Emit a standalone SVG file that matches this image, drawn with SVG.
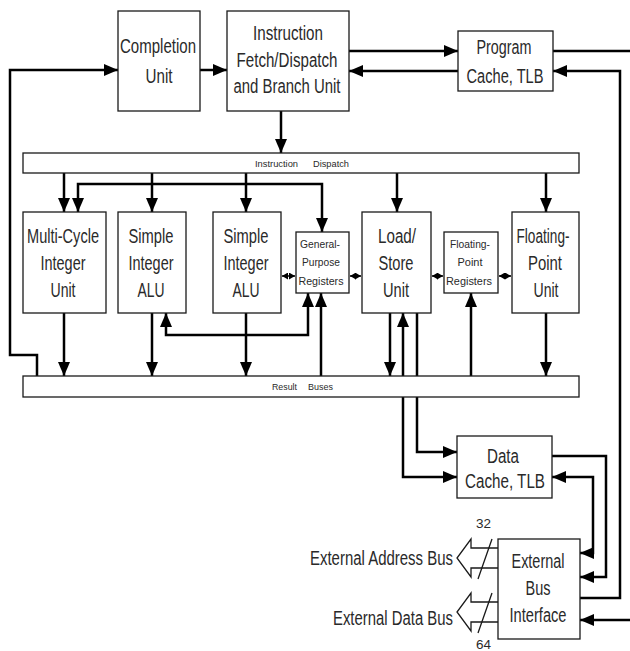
<svg xmlns="http://www.w3.org/2000/svg" width="630" height="651" viewBox="0 0 630 651">
<style>
.box{fill:#fff;stroke:#1a1a1a;stroke-width:1.3}
.ln{fill:none;stroke:#000;stroke-width:2.5}
.sm{fill:none;stroke:#000;stroke-width:1.5}
.th{fill:none;stroke:#1a1a1a;stroke-width:1.3}
.t{font-family:"Liberation Sans",Arial,sans-serif;font-size:20px;fill:#2a2a2a;text-anchor:middle}
.r{font-size:11px}
.b{font-size:9.5px}
.n{font-size:12px}
</style>
<defs>
<marker id="a" markerUnits="userSpaceOnUse" markerWidth="14" markerHeight="12" refX="14" refY="6" orient="auto-start-reverse"><path d="M0,0L14,6L0,12z" fill="#000"/></marker>
<marker id="s" markerUnits="userSpaceOnUse" markerWidth="6" markerHeight="7" refX="6" refY="3.5" orient="auto-start-reverse"><path d="M0,0L6,3.5L0,7z" fill="#000"/></marker>
</defs>
<g id="connectors">
<path class="ln" d="M37,376V355H10V70H118" marker-end="url(#a)"/>
<path class="ln" d="M200,70H227" marker-end="url(#a)"/>
<path class="ln" d="M349,51H458" marker-end="url(#a)"/>
<path class="ln" d="M458,71H349" marker-end="url(#a)"/>
<path class="ln" d="M553,51H630"/>
<path class="ln" d="M580,598H620V71H553" marker-end="url(#a)"/>
<path class="ln" d="M630,620H580" marker-end="url(#a)"/>
<path class="ln" d="M281,111V153" marker-end="url(#a)"/>
<path class="ln" d="M64,173V212" marker-end="url(#a)"/>
<path class="ln" d="M152,173V212" marker-end="url(#a)"/>
<path class="ln" d="M246,173V212" marker-end="url(#a)"/>
<path class="ln" d="M397,173V212" marker-end="url(#a)"/>
<path class="ln" d="M546,173V212" marker-end="url(#a)"/>
<path class="ln" d="M78,212V184H322V232" marker-start="url(#a)" marker-end="url(#a)"/>
<path class="sm" d="M282,276H295" marker-start="url(#s)" marker-end="url(#s)"/>
<path class="sm" d="M350,276H361" marker-start="url(#s)" marker-end="url(#s)"/>
<path class="sm" d="M432,276H443" marker-start="url(#s)" marker-end="url(#s)"/>
<path class="sm" d="M499,276H511" marker-start="url(#s)" marker-end="url(#s)"/>
<path class="ln" d="M64,313V376" marker-end="url(#a)"/>
<path class="ln" d="M152,313V376" marker-end="url(#a)"/>
<path class="ln" d="M246,313V376" marker-end="url(#a)"/>
<path class="ln" d="M166,313V335H308V293" marker-start="url(#a)" marker-end="url(#a)"/>
<path class="ln" d="M321,376V293" marker-end="url(#a)"/>
<path class="ln" d="M390,313V376" marker-end="url(#a)"/>
<path class="ln" d="M403,313V477H457" marker-start="url(#a)" marker-end="url(#a)"/>
<path class="ln" d="M417,313V452H457" marker-end="url(#a)"/>
<path class="ln" d="M471,376V293" marker-end="url(#a)"/>
<path class="ln" d="M546,313V376" marker-end="url(#a)"/>
<path class="ln" d="M552,456H606V577H580" marker-end="url(#a)"/>
<path class="ln" d="M552,477H593V553H580" marker-start="url(#a)" marker-end="url(#a)"/>
<polyline class="th" points="498,548 471,548 471,539 457,558 471,577 471,568 498,568"/>
<polyline class="th" points="498,602 471,602 471,593 457,612 471,631 471,622 498,622"/>
<path class="th" d="M492,539L478,579M492,593L478,633"/>
</g>
<g id="completion-unit"><rect class="box" x="118" y="11" width="82" height="100"/>
<text class="t" x="158" y="53" textLength="76" lengthAdjust="spacingAndGlyphs">Completion</text>
<text class="t" x="159" y="83" textLength="27" lengthAdjust="spacingAndGlyphs">Unit</text></g>
<g id="fetch-unit"><rect class="box" x="227" y="11" width="122" height="100"/>
<text class="t" x="288" y="40" textLength="70" lengthAdjust="spacingAndGlyphs">Instruction</text>
<text class="t" x="287" y="67" textLength="101" lengthAdjust="spacingAndGlyphs">Fetch/Dispatch</text>
<text class="t" x="287" y="93" textLength="107" lengthAdjust="spacingAndGlyphs">and Branch Unit</text></g>
<g id="program-cache"><rect class="box" x="458" y="31" width="95" height="60"/>
<text class="t" x="504" y="54" textLength="55" lengthAdjust="spacingAndGlyphs">Program</text>
<text class="t" x="505" y="83" textLength="77" lengthAdjust="spacingAndGlyphs">Cache, TLB</text></g>
<g id="instruction-dispatch"><rect class="box" x="23" y="153" width="556" height="20"/>
<text class="t b" x="276.5" y="167" textLength="43" lengthAdjust="spacingAndGlyphs">Instruction</text>
<text class="t b" x="331" y="167" textLength="36" lengthAdjust="spacingAndGlyphs">Dispatch</text></g>
<g id="multi-cycle"><rect class="box" x="23" y="212" width="83" height="101"/>
<text class="t" x="63" y="243" textLength="72" lengthAdjust="spacingAndGlyphs">Multi-Cycle</text>
<text class="t" x="63" y="270" textLength="45" lengthAdjust="spacingAndGlyphs">Integer</text>
<text class="t" x="63" y="297" textLength="25" lengthAdjust="spacingAndGlyphs">Unit</text></g>
<g id="alu1"><rect class="box" x="118" y="212" width="68" height="101"/>
<text class="t" x="151" y="243" textLength="45" lengthAdjust="spacingAndGlyphs">Simple</text>
<text class="t" x="151" y="270" textLength="45" lengthAdjust="spacingAndGlyphs">Integer</text>
<text class="t" x="151" y="297" textLength="27" lengthAdjust="spacingAndGlyphs">ALU</text></g>
<g id="alu2"><rect class="box" x="213" y="212" width="68" height="101"/>
<text class="t" x="246" y="243" textLength="45" lengthAdjust="spacingAndGlyphs">Simple</text>
<text class="t" x="246" y="270" textLength="45" lengthAdjust="spacingAndGlyphs">Integer</text>
<text class="t" x="246" y="297" textLength="27" lengthAdjust="spacingAndGlyphs">ALU</text></g>
<g id="gpr"><rect class="box" x="296" y="232" width="53" height="61"/>
<text class="t r" x="320" y="248" textLength="40" lengthAdjust="spacingAndGlyphs">General-</text>
<text class="t r" x="321" y="266" textLength="38" lengthAdjust="spacingAndGlyphs">Purpose</text>
<text class="t r" x="321" y="285" textLength="45" lengthAdjust="spacingAndGlyphs">Registers</text></g>
<g id="load-store"><rect class="box" x="362" y="212" width="69" height="101"/>
<text class="t" x="397" y="243" textLength="38" lengthAdjust="spacingAndGlyphs">Load/</text>
<text class="t" x="396" y="270" textLength="35" lengthAdjust="spacingAndGlyphs">Store</text>
<text class="t" x="396" y="297" textLength="26" lengthAdjust="spacingAndGlyphs">Unit</text></g>
<g id="fpr"><rect class="box" x="444" y="232" width="54" height="61"/>
<text class="t r" x="470" y="248" textLength="40" lengthAdjust="spacingAndGlyphs">Floating-</text>
<text class="t r" x="470" y="266" textLength="25" lengthAdjust="spacingAndGlyphs">Point</text>
<text class="t r" x="469" y="285" textLength="46" lengthAdjust="spacingAndGlyphs">Registers</text></g>
<g id="fpu"><rect class="box" x="512" y="212" width="67" height="101"/>
<text class="t" x="543" y="243" textLength="53" lengthAdjust="spacingAndGlyphs">Floating-</text>
<text class="t" x="545" y="270" textLength="34" lengthAdjust="spacingAndGlyphs">Point</text>
<text class="t" x="546" y="297" textLength="25" lengthAdjust="spacingAndGlyphs">Unit</text></g>
<g id="result-buses"><rect class="box" x="23" y="376" width="556" height="21"/>
<text class="t b" x="284.5" y="390" textLength="25" lengthAdjust="spacingAndGlyphs">Result</text>
<text class="t b" x="320.5" y="390" textLength="25" lengthAdjust="spacingAndGlyphs">Buses</text></g>
<g id="data-cache"><rect class="box" x="457" y="436" width="95" height="62"/>
<text class="t" x="503" y="463" textLength="32" lengthAdjust="spacingAndGlyphs">Data</text>
<text class="t" x="505" y="488" textLength="80" lengthAdjust="spacingAndGlyphs">Cache, TLB</text></g>
<g id="bus-interface"><rect class="box" x="498" y="539" width="82" height="100"/>
<text class="t" x="538" y="568" textLength="53" lengthAdjust="spacingAndGlyphs">External</text>
<text class="t" x="538" y="595" textLength="25" lengthAdjust="spacingAndGlyphs">Bus</text>
<text class="t" x="538" y="622" textLength="57" lengthAdjust="spacingAndGlyphs">Interface</text></g>
<g id="external-address-bus">
<text class="t" x="381.5" y="565" textLength="143" lengthAdjust="spacingAndGlyphs">External Address Bus</text>
<text class="t n" x="483.5" y="528" textLength="15" lengthAdjust="spacingAndGlyphs">32</text></g>
<g id="external-data-bus">
<text class="t" x="393" y="625" textLength="120" lengthAdjust="spacingAndGlyphs">External Data Bus</text>
<text class="t n" x="483.5" y="649" textLength="15" lengthAdjust="spacingAndGlyphs">64</text></g>
</svg>
